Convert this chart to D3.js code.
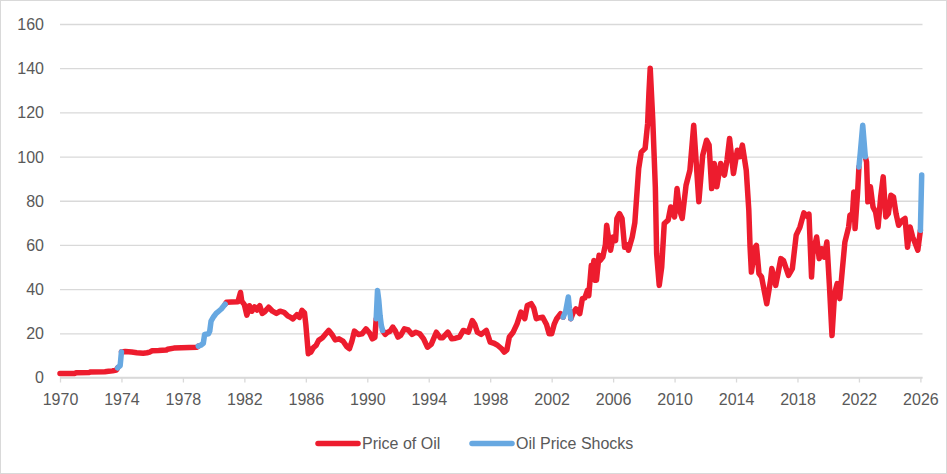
<!DOCTYPE html>
<html>
<head>
<meta charset="utf-8">
<script src="https://cdn.jsdelivr.net/npm/d3@7"></script>
<style>
  body { margin: 0; background: #fff; }
  text { font-family: "Liberation Sans", Arial, sans-serif; }
</style>
</head>
<body>
<svg id="chart" width="947" height="474"></svg>
<script>
// ---------- DATA ----------
const months = [
  "1970-01","1970-12","1971-02","1971-12","1972-01","1972-12","1973-03","1973-06","1973-09","1973-10","1973-11","1973-12",
  "1974-01","1974-04","1974-09","1975-01","1975-06","1975-09","1975-11","1976-01","1976-06","1976-12","1977-01","1977-06","1977-12",
  "1978-06","1978-12","1979-01","1979-03","1979-05","1979-06","1979-09","1979-10","1979-11","1980-01","1980-03","1980-05","1980-07",
  "1980-09","1980-10","1980-11","1981-03","1981-08","1981-10","1981-11","1982-01","1982-03","1982-04","1982-05","1982-07","1982-09",
  "1982-11","1983-01","1983-03","1983-05","1983-08","1983-11","1984-02","1984-05","1984-08","1984-11","1985-01","1985-03","1985-06",
  "1985-08","1985-10","1985-12","1986-01","1986-03","1986-04","1986-05","1986-07","1986-09","1986-11","1987-02","1987-05","1987-07",
  "1987-10","1987-12","1988-03","1988-06","1988-09","1988-11","1989-01","1989-03","1989-06","1989-09","1989-12","1990-03","1990-05",
  "1990-07","1990-08","1990-09","1990-10","1990-11","1990-12","1991-01","1991-03","1991-05","1991-07","1991-09","1991-11","1992-01",
  "1992-03","1992-06","1992-09","1992-12","1993-03","1993-06","1993-09","1993-12","1994-03","1994-07","1994-10","1994-12","1995-04",
  "1995-07","1995-10","1996-01","1996-04","1996-08","1996-11","1997-01","1997-03","1997-06","1997-10","1998-01","1998-04","1998-07",
  "1998-10","1998-12","1999-02","1999-04","1999-07","1999-10","2000-01","2000-04","2000-06","2000-09","2000-11","2001-01","2001-03",
  "2001-06","2001-09","2001-11","2002-01","2002-03","2002-05","2002-08","2002-10","2002-12","2003-02","2003-03","2003-04","2003-06",
  "2003-08","2003-11","2004-01","2004-03","2004-05","2004-06","2004-08","2004-09","2004-10","2004-11","2004-12","2005-02","2005-03",
  "2005-05","2005-07","2005-08","2005-09","2005-11","2006-01","2006-03","2006-04","2006-06","2006-08","2006-10","2006-12","2007-01",
  "2007-04","2007-06","2007-07","2007-09","2007-11","2008-02","2008-04","2008-05","2008-06","2008-08","2008-10","2008-11","2009-01",
  "2009-03","2009-05","2009-08","2009-10","2010-01","2010-03","2010-05","2010-07","2010-10","2011-01","2011-04","2011-06","2011-08",
  "2011-11","2012-02","2012-04","2012-06","2012-08","2012-10","2013-01","2013-04","2013-06","2013-08","2013-11","2014-02","2014-04",
  "2014-06","2014-09","2014-11","2014-12","2015-01","2015-04","2015-05","2015-07","2015-09","2015-11","2016-01","2016-04","2016-05",
  "2016-08","2016-10","2016-12","2017-02","2017-06","2017-09","2017-12","2018-03","2018-06","2018-09","2018-10","2018-12","2019-01",
  "2019-04","2019-06","2019-08","2019-10","2019-12","2020-02","2020-04","2020-06","2020-08","2020-10","2020-12","2021-02","2021-05",
  "2021-06","2021-08","2021-09","2021-10","2021-12","2022-01","2022-02","2022-04","2022-06","2022-07","2022-08","2022-10","2022-12",
  "2023-02","2023-04","2023-06","2023-08","2023-10","2023-12","2024-02","2024-04","2024-06","2024-08","2024-11","2025-01","2025-03",
  "2025-05","2025-07","2025-09","2025-11","2026-01","2026-02"
];
const prices = [
  1.8,1.8,2.2,2.3,2.5,2.6,2.8,3.0,3.4,4.3,5.0,5.3,
  11.6,11.8,11.5,11.2,11.0,11.2,11.5,12.1,12.2,12.4,12.8,13.3,13.5,
  13.6,13.7,14.2,14.6,15.5,19.5,19.8,21,25.5,27.5,29,30,31,
  32.5,33.2,34.1,34.2,34.3,38.5,34.5,33,28.2,30,32.5,30,32,
  30.5,32.5,29,29.8,31.8,30,29,30,29.5,27.8,27.3,26.5,28.4,
  27.2,30.4,29.2,24,10.7,13,11.5,13.5,14.5,16.8,18,20,21.3,
  19,17,17.5,16.5,14,13,16.5,21,19.5,19.8,22,20,17.5,
  18.2,26.6,39.4,35,28,23.5,21.3,19.5,20.5,21,22.8,21,18.3,
  19,22,21.5,19.5,20.5,19.8,17.5,13.7,15,20.5,18,18,20.5,
  17.5,17.8,18.3,21.3,20.5,25.8,24,20.5,19.5,21.3,16,15.5,14.5,
  13,11.5,12.5,18.3,20.5,24.3,29.6,26.6,32.6,33.4,31.5,26.6,27,
  27.3,24,19.8,19.8,24,26.6,28.9,27.3,30,36.4,31,26.6,29.5,
  31,28.9,35.7,36,39.4,37,50.8,45,53,44,44,55.3,53,
  54.5,60,68.9,65,57.6,63.6,62,72,74.2,72,59,60,57.6,
  63.6,70,78,94.6,102,103.7,115,128.6,140,116.5,86,56,41.7,
  50,69.7,71.2,77.2,72.7,85.5,75.7,72,87,93.8,114.2,96.9,79.5,
  100.6,107.4,105.2,85.5,96.9,86.3,96.9,91.6,98.4,108.2,92.3,102.9,99.9,
  105.2,93.8,75.7,59,47.7,59,59.8,47,45.5,39.4,33.4,44,49.3,
  41.7,47.7,53.8,53,46.2,49.3,64.4,68.1,74.5,72.7,74,45.5,56,
  63.6,53.8,58.3,54.5,61.3,41,19,37.9,42.5,35.7,48.5,61.3,68.1,
  73.4,74.2,84,67.4,84,95.3,101.4,114.2,99.9,97.6,79.5,86.3,77.2,
  74.9,68.1,81.7,90.8,72.7,74.2,82.5,81.7,74.2,68.9,71.2,72,59,
  68.1,63.6,60.6,57.6,66.6,91.6
];
const shockStarts = ["1973-10","1979-01","1990-08","2002-10","2022-01","2026-01"];
const shockEnds   = ["1974-01","1980-10","1991-01","2003-04","2022-06","2026-02"];
const yTickValues = [0,20,40,60,80,100,120,140,160];
const xTickYears  = [1970,1974,1978,1982,1986,1990,1994,1998,2002,2006,2010,2014,2018,2022,2026];
const seriesNames = ["Price of Oil","Oil Price Shocks"];
const seriesColors = ["#ED1C2E","#67A8E1"];

// ---------- CHART ----------
(function () {
  const svg = d3.select("#chart");
  const W = 947, H = 474;
  const mLeft = 60, mRight = 922.5, mTop = 24, mBottom = 377.5;
  const parse = d3.timeParse("%Y-%m");
  const n = Math.min(months.length, prices.length);
  const data = months.slice(0, n).map((m, i) => ({ date: parse(m), value: prices[i] }));
  const ranges = shockStarts.map((s, i) => [parse(s), parse(shockEnds[i])]);

  // red segments: consecutive pairs not lying inside a shock range
  const redSegments = [];
  let cur = [data[0]];
  for (let i = 1; i < data.length; i++) {
    const a = data[i-1], b = data[i];
    const inShock = ranges.some(r => a.date >= r[0] && b.date <= r[1]);
    if (inShock) {
      if (cur.length > 1) redSegments.push(cur);
      cur = [b];
    } else {
      cur.push(b);
    }
  }
  if (cur.length > 1) redSegments.push(cur);

  svg.append("rect").attr("x",0.5).attr("y",0.5).attr("width",W-1).attr("height",H-1)
     .attr("fill","#fff").attr("stroke","#d9d9d9").attr("stroke-width",1);

  const x = d3.scaleTime().domain([new Date(1970,0,1), new Date(2026,1,20)]).range([mLeft, mRight]);
  const y = d3.scaleLinear().domain([0,160]).range([mBottom, mTop]);

  const yAxis = d3.axisLeft(y).tickValues(yTickValues).tickSize(-(mRight-mLeft)).tickPadding(16).tickFormat(d3.format("d"));
  const gy = svg.append("g").attr("transform",`translate(${mLeft},0)`).call(yAxis);
  gy.select(".domain").remove();
  gy.selectAll(".tick line").attr("stroke","#d9d9d9").attr("stroke-width",1.3);
  gy.selectAll(".tick text").attr("fill","#595959").style("font-size","16px").attr("dy","0.34em");

  const xAxis = d3.axisBottom(x).tickValues(xTickYears.map(yr => new Date(yr,0,1)))
    .tickFormat(d3.timeFormat("%Y")).tickSize(5).tickPadding(11);
  const gx = svg.append("g").attr("transform",`translate(0,${mBottom})`).call(xAxis);
  gx.select(".domain").attr("stroke","#d9d9d9").attr("stroke-width",1.3).attr("d",`M${mLeft},0H${mRight}`);
  gx.selectAll(".tick line").attr("stroke","#d9d9d9").attr("stroke-width",1.3);
  gx.selectAll(".tick text").attr("fill","#595959").style("font-size","16px");

  const line = d3.line().x(d => x(d.date)).y(d => y(d.value));

  redSegments.forEach(seg => {
    svg.append("path").datum(seg).attr("d", line)
      .attr("fill","none").attr("stroke",seriesColors[0]).attr("stroke-width",5.5)
      .attr("stroke-linejoin","round").attr("stroke-linecap","round");
  });

  ranges.forEach(r => {
    const seg = data.filter(d => d.date >= r[0] && d.date <= r[1]);
    svg.append("path").datum(seg).attr("d", line)
      .attr("fill","none").attr("stroke",seriesColors[1]).attr("stroke-width",5.5)
      .attr("stroke-linejoin","round").attr("stroke-linecap","round");
  });

  const legendY = 443.5;
  const legendItems = [{x:318, tx:362}, {x:472, tx:516}];
  legendItems.forEach((it, i) => {
    svg.append("line").attr("x1",it.x).attr("x2",it.x+40).attr("y1",legendY).attr("y2",legendY)
      .attr("stroke",seriesColors[i]).attr("stroke-width",5.5).attr("stroke-linecap","round");
    svg.append("text").attr("x",it.tx).attr("y",legendY).attr("dy","0.35em")
      .attr("fill","#595959").style("font-size","16px").text(seriesNames[i]);
  });
})();
</script>
</body>
</html>
